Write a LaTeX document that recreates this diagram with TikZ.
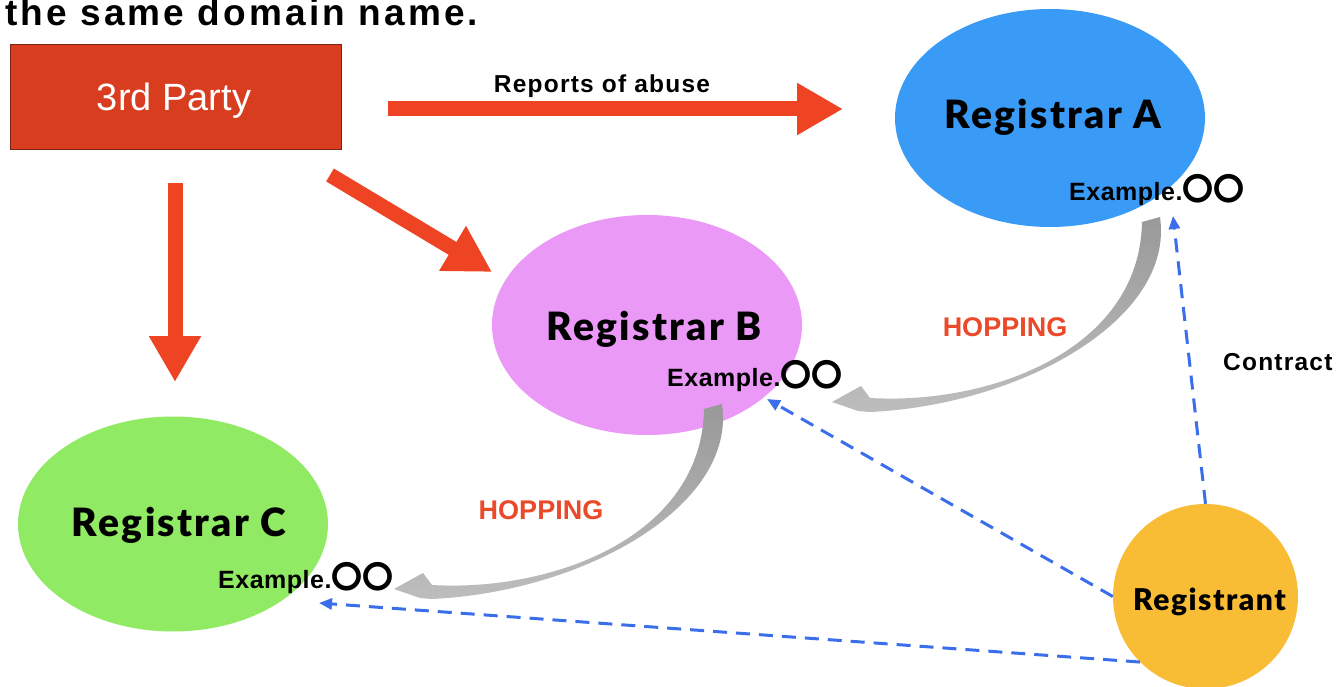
\documentclass[tikz,border=0pt]{standalone}
\usepackage{fontspec}
\setmainfont{Liberation Sans}
\newfontfamily\heavyfont{Lato Black}
\newfontfamily\medfont{Liberation Sans}
\newfontfamily\cjkfont{Noto Sans CJK JP}
\usetikzlibrary{shapes.geometric,arrows.meta}
\definecolor{partyred}{HTML}{D83D20}
\definecolor{partyedge}{HTML}{7A2616}
\definecolor{arrowred}{HTML}{EF4424}
\definecolor{hopred}{HTML}{EA4A2A}
\definecolor{regAcol}{HTML}{3A9BF7}
\definecolor{regBcol}{HTML}{EB99F6}
\definecolor{regCcol}{HTML}{91EA63}
\definecolor{regtcol}{HTML}{F8BD35}
\definecolor{dashblue}{HTML}{3B6EEA}
\definecolor{hopdark}{HTML}{999999}
\definecolor{hoplight}{HTML}{BDBDBD}
\tikzset{
  regshape/.style={ellipse, inner sep=0pt, minimum width=310pt},
  regname/.style={anchor=base, inner sep=0pt, font=\heavyfont\fontsize{39}{42}\selectfont\addfontfeature{LetterSpace=6}},
  domlabel/.style={anchor=base west, inner sep=0pt},
  hoplabel/.style={anchor=base, inner sep=0pt, text=hopred, font=\fontsize{27}{30}\bfseries},
  blacklabel/.style={inner sep=0pt, font=\fontsize{24.5}{28}\bfseries\addfontfeature{LetterSpace=5}},
  redarrow/.style={draw=arrowred, line width=15pt, -{Triangle[length=46pt,width=49pt]}},
  contractline/.style={draw=dashblue, line width=3pt, dash pattern=on 14pt off 9pt, -{Triangle[length=13pt,width=11pt]}},
  hop/.pic={\shade[top color=hopdark, bottom color=hoplight] (0,0) .. controls (15,103) and (-140,188) .. (-290,195) -- (-302,194) -- (-328,185) -- (-299,169) -- (-290,181) .. controls (-170,188) and (-20,133) .. (-18,5) -- cycle;}
}
\newcommand{\dom}{{\medfont\bfseries\fontsize{25}{28}\selectfont\addfontfeature{LetterSpace=2}Example.}{\cjkfont\bfseries\fontsize{31}{31}\selectfont 〇〇}}
\begin{document}
\begin{tikzpicture}[x=1pt,y=-1pt]
\useasboundingbox (0,0) rectangle (1342,687);
\fill[white] (0,0) rectangle (1342,687);

% title
\node[anchor=base west, inner sep=0pt, font=\fontsize{37}{40}\bfseries\addfontfeature{LetterSpace=8.5}] (title) at (5,26) {the same domain name.};

% 3rd party
\node[rectangle, fill=partyred, draw=partyedge, line width=0.8pt, minimum width=331pt, minimum height=105pt, inner sep=0pt] (party) at (175.5,96.5) {};
\node[anchor=base, inner sep=0pt, text=white, font=\fontsize{38}{40}\selectfont] (partylbl) at (174,111) {3rd Party};

% registrars
\node[regshape, fill=regAcol, minimum height=218pt] (regA) at (1050,118) {};
\node[regshape, fill=regBcol, minimum height=220pt] (regB) at (647,325) {};
\node[regshape, fill=regCcol, minimum height=215pt] (regC) at (173,524) {};
\node[circle, fill=regtcol, minimum size=185pt, inner sep=0pt] (regt) at (1205.5,596.5) {};

% red arrows
\coordinate (r1s) at (388,109);
\coordinate (r1e) at (843,109);
\coordinate (r2s) at (175,183);
\coordinate (r2e) at (175,382);
\coordinate (r3s) at (330,175);
\coordinate (r3e) at (492,272);
\draw[redarrow] (r1s) -- (r1e);
\draw[redarrow] (r2s) -- (r2e);
\draw[redarrow] (r3s) -- (r3e);
\node[blacklabel, anchor=base] (abuse) at (602,93) {Reports of abuse};

% hopping arrows
\pic at (1160,217) {hop};
\pic at (722,404) {hop};

% contract lines
\coordinate (tipA) at (1173,216);
\coordinate (tipB) at (767,399);
\coordinate (tipC) at (319,603);
\draw[contractline] (regt.north) -- (tipA);
\draw[contractline] (regt.west) -- (tipB);
\draw[contractline] (regt.225) -- (tipC);

% labels
\node[regname] (nA) at (1053,128.5) {Registrar A};
\node[regname] (nB) at (654,340) {Registrar B};
\node[regname] (nC) at (179,536) {Registrar C};
\node[anchor=base, inner sep=0pt, font=\heavyfont\fontsize{30}{32}\selectfont\addfontfeature{LetterSpace=5}] (nt) at (1209.5,610) {Registrant};
\node[domlabel] (dA) at (1069,200.5) {\dom};
\node[domlabel] (dB) at (667,386) {\dom};
\node[domlabel] (dC) at (218,588) {\dom};
\node[hoplabel] (h1) at (1005,336.5) {HOPPING};
\node[hoplabel] (h2) at (541,519) {HOPPING};
\node[blacklabel, anchor=base west] (contract) at (1223,370) {Contract};
\end{tikzpicture}
\end{document}
